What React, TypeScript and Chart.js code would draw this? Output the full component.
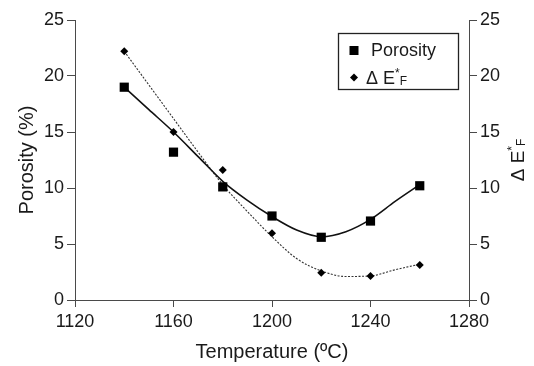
import React, { useEffect, useRef } from 'react';
import { Chart, registerables } from 'chart.js';

Chart.register(...registerables);

const temperatures = [1140, 1160, 1180, 1200, 1220, 1240, 1260];
const porosity = [19.0, 13.2, 10.1, 7.5, 5.6, 7.05, 10.2];
const deltaE = [22.2, 15.0, 11.6, 5.95, 2.44, 2.14, 3.13];

const trendTemps = [1140, 1150, 1160, 1170, 1180, 1190, 1200, 1210, 1220, 1230, 1240, 1250, 1260];
const porosityTrend = [19.0, 17.0, 15.0, 12.8, 10.6, 8.9, 7.45, 6.25, 5.65, 6.1, 7.2, 8.8, 10.3];
const deltaETrend = [22.2, 19.2, 16.2, 13.2, 10.3, 7.9, 5.65, 3.7, 2.6, 2.1, 2.15, 2.7, 3.2];

const xTicks = [1120, 1160, 1200, 1240, 1280];
const yTicks = [0, 5, 10, 15, 20, 25];

const FONT = '"Liberation Sans", Arial, sans-serif';
const AXIS_COLOR = '#4a4a4a';
const TEXT_COLOR = '#1a1a1a';

function drawDeltaE(ctx: CanvasRenderingContext2D, x: number, y: number, big: number, small: number, align: 'left' | 'center') {
  ctx.font = `${big}px ${FONT}`;
  const w1 = ctx.measureText('Δ E').width;
  ctx.font = `${small}px ${FONT}`;
  const w2 = ctx.measureText('*').width;
  const w3 = ctx.measureText('F').width;
  const total = w1 + w2 + w3;
  let sx = align === 'center' ? x - total / 2 : x;
  const baseline = y + big * 0.36;
  ctx.textAlign = 'left';
  ctx.textBaseline = 'alphabetic';
  ctx.fillStyle = TEXT_COLOR;
  ctx.font = `${big}px ${FONT}`;
  ctx.fillText('Δ E', sx, baseline);
  sx += w1;
  ctx.font = `${small}px ${FONT}`;
  ctx.fillText('*', sx, baseline - big * 0.42);
  sx += w2;
  ctx.fillText('F', sx, baseline + 1);
}

const overlayPlugin = {
  id: 'overlay',
  afterDraw(chart: any) {
    const ctx = chart.ctx as CanvasRenderingContext2D;
    const area = chart.chartArea;
    ctx.save();
    ctx.translate(area.right + 48, (area.top + area.bottom) / 2);
    ctx.rotate(-Math.PI / 2);
    drawDeltaE(ctx, 0, 0, 19, 12, 'center');
    ctx.restore();

    ctx.save();
    const lx = 338.5, ly = 33.5, lw = 120, lh = 56;
    ctx.fillStyle = '#ffffff';
    ctx.fillRect(lx, ly, lw, lh);
    ctx.strokeStyle = '#222';
    ctx.lineWidth = 1.3;
    ctx.strokeRect(lx, ly, lw, lh);
    ctx.fillStyle = '#000';
    ctx.fillRect(354 - 4.5, 50.5 - 4.5, 9, 9);
    ctx.beginPath();
    ctx.moveTo(354, 77.5 - 4);
    ctx.lineTo(358, 77.5);
    ctx.lineTo(354, 77.5 + 4);
    ctx.lineTo(350, 77.5);
    ctx.closePath();
    ctx.fill();
    ctx.font = `18px ${FONT}`;
    ctx.fillStyle = TEXT_COLOR;
    ctx.textAlign = 'left';
    ctx.textBaseline = 'middle';
    ctx.fillText('Porosity', 371, 51);
    drawDeltaE(ctx, 366, 78, 18, 12, 'left');
    ctx.restore();
  },
};

export default function App() {
  const canvasRef = useRef<HTMLCanvasElement | null>(null);

  useEffect(() => {
    if (!canvasRef.current) return;
    const toPts = (xs: number[], ys: number[]) => xs.map((x, i) => ({ x, y: ys[i] }));
    const chart = new Chart(canvasRef.current, {
      type: 'scatter',
      data: {
        datasets: [
          {
            label: 'Porosity',
            data: toPts(temperatures, porosity),
            pointStyle: 'rect',
            pointRadius: 6.5,
            backgroundColor: '#000',
            borderColor: '#000',
            borderWidth: 0,
            yAxisID: 'y',
            order: 0,
          },
          {
            label: 'Δ E*F',
            data: toPts(temperatures, deltaE),
            pointStyle: 'rectRot',
            pointRadius: 4,
            backgroundColor: '#000',
            borderColor: '#000',
            borderWidth: 0,
            yAxisID: 'y2',
            order: 0,
          },
          {
            label: 'Porosity trend',
            data: toPts(trendTemps, porosityTrend),
            showLine: true,
            pointRadius: 0,
            borderColor: '#111',
            borderWidth: 1.6,
            cubicInterpolationMode: 'monotone',
            yAxisID: 'y',
            order: 1,
          },
          {
            label: 'Δ E*F trend',
            data: toPts(trendTemps, deltaETrend),
            showLine: true,
            pointRadius: 0,
            borderColor: '#333',
            borderWidth: 1.1,
            borderDash: [2, 1.5],
            cubicInterpolationMode: 'monotone',
            yAxisID: 'y2',
            order: 1,
          },
        ],
      },
      options: {
        animation: false,
        responsive: true,
        maintainAspectRatio: false,
        layout: { padding: { top: 20, left: 0, right: 0, bottom: 0 } },
        plugins: { legend: { display: false }, tooltip: { enabled: false } },
        scales: {
          x: {
            type: 'linear',
            min: 1120,
            max: 1280,
            afterBuildTicks: (s: any) => { s.ticks = xTicks.map((v) => ({ value: v })); },
            afterFit: (s: any) => { s.height = 66; },
            border: { display: true, color: AXIS_COLOR, width: 1 },
            grid: { drawOnChartArea: false, drawTicks: true, tickLength: 7, color: AXIS_COLOR },
            ticks: { color: TEXT_COLOR, font: { family: FONT, size: 18 }, padding: 4, maxRotation: 0, callback: (v: any) => String(v) },
            title: { display: true, text: 'Temperature (ºC)', color: TEXT_COLOR, font: { family: FONT, size: 20 }, padding: { top: 0, bottom: 2 } },
          },
          y: {
            type: 'linear',
            position: 'left',
            min: 0,
            max: 25,
            afterBuildTicks: (s: any) => { s.ticks = yTicks.map((v) => ({ value: v })); },
            afterFit: (s: any) => { s.width = 75; },
            border: { display: true, color: AXIS_COLOR, width: 1 },
            grid: { drawOnChartArea: false, drawTicks: true, tickLength: 8, color: AXIS_COLOR },
            ticks: { color: TEXT_COLOR, font: { family: FONT, size: 18 }, padding: 3, callback: (v: any) => String(v) },
            title: { display: true, text: 'Porosity (%)', color: TEXT_COLOR, font: { family: FONT, size: 20 }, padding: { top: 15, bottom: 0 } },
          },
          y2: {
            type: 'linear',
            position: 'right',
            min: 0,
            max: 25,
            afterBuildTicks: (s: any) => { s.ticks = yTicks.map((v) => ({ value: v })); },
            afterFit: (s: any) => { s.width = 65; },
            border: { display: true, color: AXIS_COLOR, width: 1 },
            grid: { drawOnChartArea: false, drawTicks: true, tickLength: 8, color: AXIS_COLOR },
            ticks: { color: TEXT_COLOR, font: { family: FONT, size: 18 }, padding: 3, callback: (v: any) => String(v) },
            title: { display: false },
          },
        },
      },
      plugins: [overlayPlugin],
    } as any);
    return () => chart.destroy();
  }, []);

  return (
    <div style={{ position: 'absolute', left: 0, top: 0, width: 534, height: 366, background: '#fff' }}>
      <canvas ref={canvasRef} />
    </div>
  );
}
